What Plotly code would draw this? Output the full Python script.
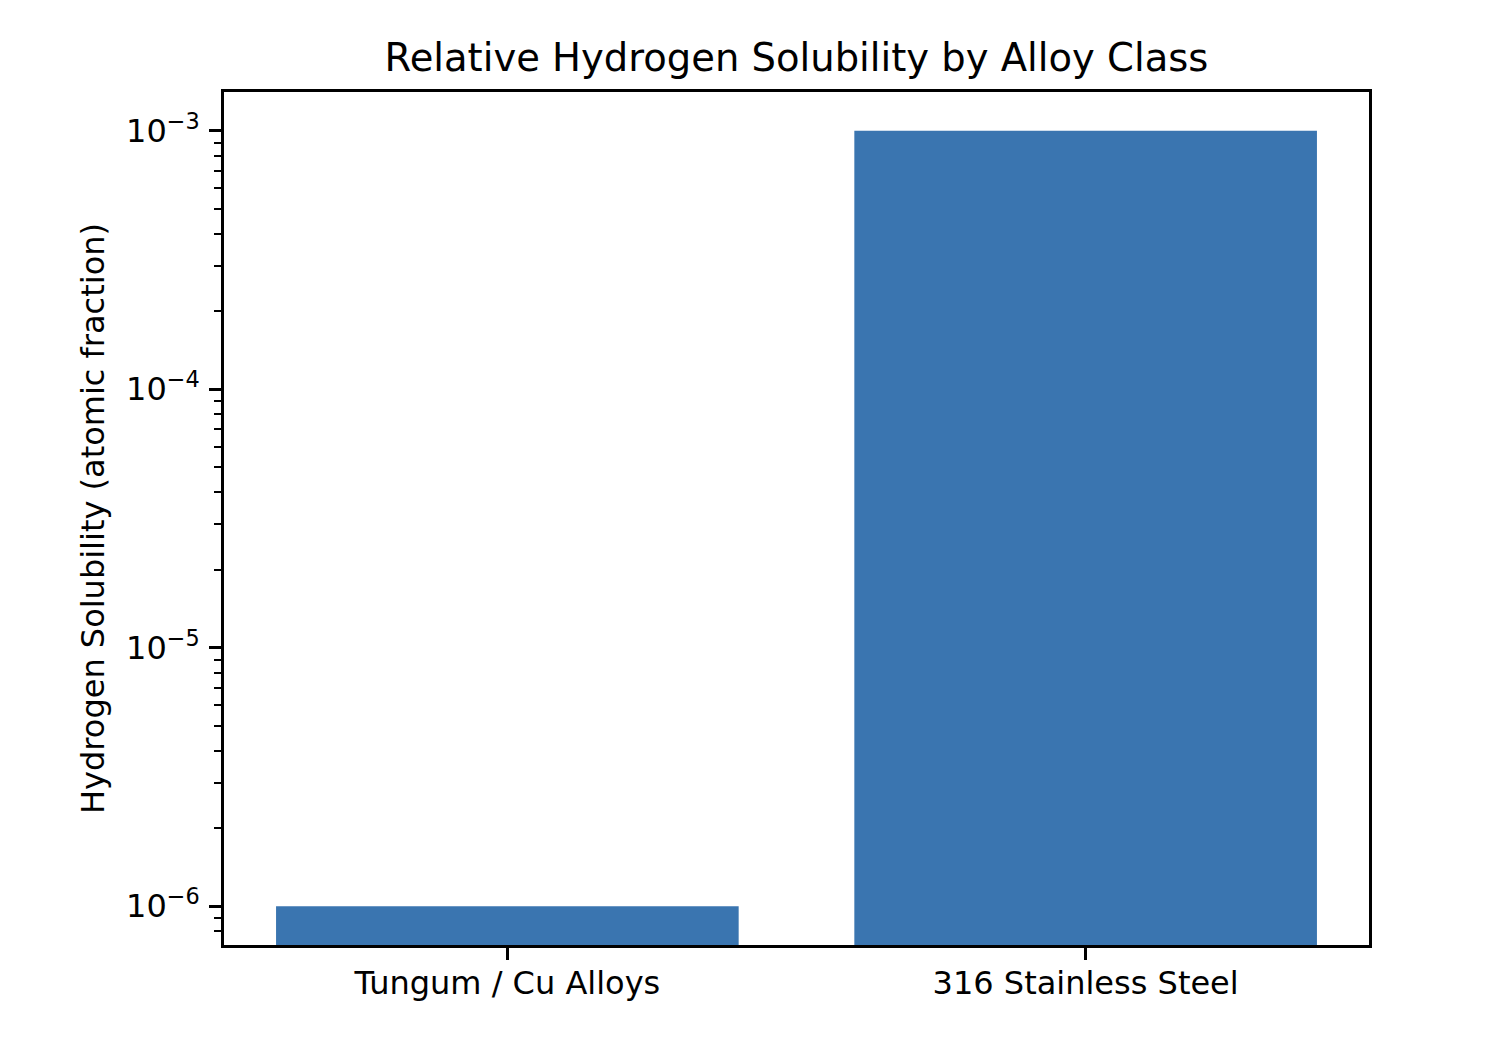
import plotly.graph_objects as go

# hydrogen solubility by alloy class (atomic fraction)
alloys = ["Tungum / Cu Alloys", "316 Stainless Steel"]
solubility = [1e-6, 1e-3]

tick_vals = [1e-6, 1e-5, 1e-4, 1e-3]
tick_text = ["10<sup>\u22126</sup>", "10<sup>\u22125</sup>", "10<sup>\u22124</sup>", "10<sup>\u22123</sup>"]

bar_color = "#3a75b0"
font = "DejaVu Sans, Liberation Sans, sans-serif"

W, H = 1491, 1023

fig = go.Figure()
fig.add_trace(go.Bar(
    x=[0, 1],
    y=solubility,
    width=0.8,
    marker=dict(color=bar_color, line=dict(width=0)),
))

fig.update_layout(
    width=W,
    height=H,
    margin=dict(l=216, r=130, t=84, b=86),
    paper_bgcolor="white",
    plot_bgcolor="white",
    showlegend=False,
    font=dict(family=font, size=32, color="black"),
    title=dict(
        text="Relative Hydrogen Solubility by Alloy Class",
        x=(216 + 1145 / 2) / W, xanchor="center",
        y=1 - 50 / H, yanchor="middle",
        font=dict(size=38.5),
    ),
)

fig.update_xaxes(
    range=[-0.49, 1.49],
    tickvals=[0, 1],
    ticktext=alloys,
    ticks="outside", ticklen=12, tickwidth=2.5, tickcolor="black",
    ticklabelstandoff=-4,
    showline=True, linecolor="black", linewidth=2.5, mirror=True,
    showgrid=False, zeroline=False,
)

fig.update_yaxes(
    type="log",
    range=[-6.15, -2.85],
    tickvals=tick_vals,
    ticktext=tick_text,
    ticks="outside", ticklen=12, tickwidth=2.5, tickcolor="black",
    ticklabelstandoff=3,
    minor=dict(ticks="outside", ticklen=7, tickwidth=2, tickcolor="black", dtick="D1", showgrid=False),
    showline=True, linecolor="black", linewidth=2.5, mirror=True,
    showgrid=False, zeroline=False,
    title=dict(text="Hydrogen Solubility (atomic fraction)", standoff=12, font=dict(size=32)),
)

fig.write_html("out.html")
